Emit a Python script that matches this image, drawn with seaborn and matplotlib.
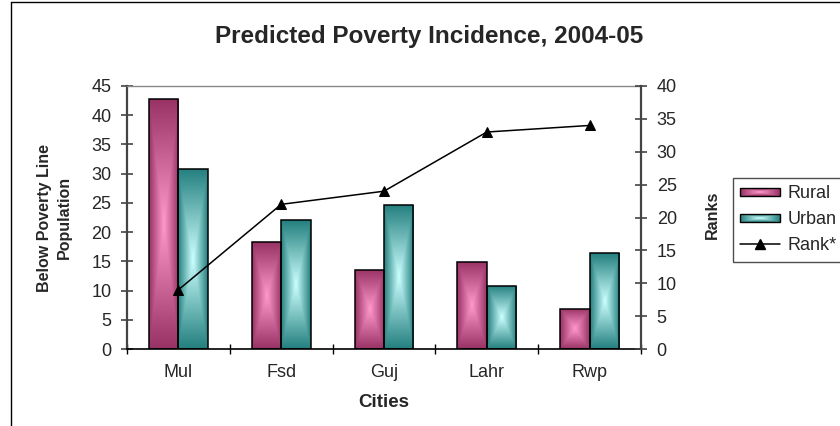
import numpy as np
import pandas as pd
import matplotlib
matplotlib.use("Agg")
import matplotlib.pyplot as plt
import seaborn as sns
from matplotlib.lines import Line2D
from matplotlib.patches import Rectangle
from matplotlib.legend_handler import HandlerBase
from matplotlib.image import BboxImage
from matplotlib.transforms import Bbox, TransformedBbox
from matplotlib.colors import to_rgb

# ---- data ----
cities = ["Mul", "Fsd", "Guj", "Lahr", "Rwp"]
rural = [42.8, 18.3, 13.6, 14.9, 6.9]
urban = [30.8, 22.0, 24.7, 10.8, 16.4]
ranks = [9, 22, 24, 33, 34]
left_ticks = list(range(0, 50, 5))
right_ticks = list(range(0, 45, 5))

RURAL_DARK, RURAL_LIGHT = "#993366", "#ff99cc"
URBAN_DARK, URBAN_LIGHT = "#24807f", "#ccffff"

sns.set_theme(style="white")
plt.rcParams["font.family"] = ["Liberation Sans", "DejaVu Sans"]

W, H = 840, 426
fig = plt.figure(figsize=(W / 100, H / 100), dpi=100)
fig.patch.set_facecolor("white")

x0, x1, y0, y1 = 127, 641, 86, 349
ax = fig.add_axes([x0 / W, 1 - y1 / H, (x1 - x0) / W, (y1 - y0) / H])

df = pd.DataFrame({
    "City": cities * 2,
    "Area": ["Rural"] * len(cities) + ["Urban"] * len(cities),
    "Value": rural + urban,
})
sns.barplot(data=df, x="City", y="Value", hue="Area", order=cities,
            hue_order=["Rural", "Urban"], palette=[RURAL_LIGHT, URBAN_LIGHT],
            width=0.573, gap=0, edgecolor="black", linewidth=1.1,
            errorbar=None, legend=False, ax=ax)


def gradient_array(dark, light, nx=80, ny=80, aspect=1.0):
    u = np.linspace(-1, 1, nx)
    v = np.linspace(-1, 1, ny)
    U, V = np.meshgrid(u, v)
    t = np.maximum(np.abs(U), np.abs(V) * aspect)
    t = np.clip(t, 0, 1)
    d, l = np.array(to_rgb(dark)), np.array(to_rgb(light))
    return l + (d - l) * t[..., None]


def fill_with_gradient(axis, patch, dark, light):
    x, y = patch.get_x(), patch.get_y()
    w, h = patch.get_width(), patch.get_height()
    img = gradient_array(dark, light)
    im = axis.imshow(img, extent=[x, x + w, y, y + h], origin="lower",
                     aspect="auto", interpolation="bilinear",
                     zorder=patch.get_zorder() - 0.01)
    im.set_clip_path(patch)
    patch.set_facecolor("none")


bars = [p for p in ax.patches if isinstance(p, Rectangle)]
n = len(cities)
for i, p in enumerate(bars):
    if i < n:
        fill_with_gradient(ax, p, RURAL_DARK, RURAL_LIGHT)
    else:
        fill_with_gradient(ax, p, URBAN_DARK, URBAN_LIGHT)

ax.set_xlim(-0.5, n - 0.5)
ax.set_ylim(0, 45)
ax.set_yticks(left_ticks)
ax.set_xticks(np.arange(-0.5, n, 1.0))
ax.set_xticklabels([])
ax.set_xticks(np.arange(n), minor=True)
ax.set_xticklabels(cities, minor=True)
ax.tick_params(axis="x", which="major", direction="inout", length=7.5,
               width=1, color="black", bottom=True)
ax.tick_params(axis="x", which="minor", length=0, pad=11, labelsize=13)
ax.tick_params(axis="y", direction="inout", length=8.5, width=1.2,
               color="#444444", left=True, pad=7, labelsize=13)

for side, sp in ax.spines.items():
    sp.set_visible(True)
ax.spines["left"].set_color("#444444")
ax.spines["left"].set_linewidth(1.6)
ax.spines["bottom"].set_color("black")
ax.spines["bottom"].set_linewidth(1.2)
ax.spines["top"].set_color("#888888")
ax.spines["top"].set_linewidth(1)
ax.spines["right"].set_visible(False)

ax.set_xlabel("Cities", fontsize=13.5, fontweight="bold")
ax.xaxis.set_label_coords(0.5, (y1 - 402.5) / (y1 - y0))
ax.xaxis.label.set_va("center")
ax.set_ylabel("Below Poverty Line\nPopulation", fontsize=11.5,
              fontweight="bold", linespacing=1.45, ha="center", va="center")
ax.yaxis.set_label_coords((54.25 - x0) / (x1 - x0), 0.5)

# rank line on the secondary axis
ax2 = ax.twinx()
sns.lineplot(x=np.arange(n), y=ranks, ax=ax2, color="black", linewidth=1.1,
             marker="^", markersize=7.5, markeredgecolor="black", sort=False,
             label="Rank*", legend=False)
ax2.set_ylim(0, 40)
ax2.set_yticks(right_ticks)
ax2.tick_params(axis="y", direction="inout", length=8.5, width=1.2,
                color="#444444", right=True, pad=7, labelsize=13)
for side in ["top", "left", "bottom"]:
    ax2.spines[side].set_visible(False)
ax2.spines["right"].set_color("#444444")
ax2.spines["right"].set_linewidth(1.6)
ax2.set_ylabel("Ranks", fontsize=11.5, fontweight="bold", ha="center",
               va="center", rotation=90)
ax2.yaxis.set_label_coords((712.5 - x0) / (x1 - x0), (y1 - 215) / (y1 - y0))
ax2.set_xlim(-0.5, n - 0.5)


class GradientHandler(HandlerBase):
    def __init__(self, dark, light):
        super().__init__()
        self.dark, self.light = dark, light

    def create_artists(self, legend, orig_handle, xdescent, ydescent,
                       width, height, fontsize, trans):
        hh = height * 0.6
        yy = -ydescent + (height - hh) / 2
        bb = TransformedBbox(Bbox.from_bounds(-xdescent, yy, width, hh), trans)
        img = BboxImage(bb, interpolation="bilinear")
        img.set_data(gradient_array(self.dark, self.light, aspect=1.0))
        rect = Rectangle((-xdescent, yy), width, hh, facecolor="none",
                         edgecolor="black", linewidth=1, transform=trans)
        return [img, rect]


rural_h = Rectangle((0, 0), 1, 1, label="Rural")
urban_h = Rectangle((0, 0), 1, 1, label="Urban")
rank_h = Line2D([], [], color="black", linewidth=1.1, marker="^",
                markersize=7.5, label="Rank*")
leg = fig.legend(handles=[rural_h, urban_h, rank_h],
                 labels=["Rural", "Urban", "Rank*"],
                 handler_map={rural_h: GradientHandler(RURAL_DARK, RURAL_LIGHT),
                              urban_h: GradientHandler(URBAN_DARK, URBAN_LIGHT)},
                 loc="upper left", bbox_to_anchor=(733 / W, 1 - 178 / H),
                 fontsize=13, frameon=True, fancybox=False, borderaxespad=0,
                 borderpad=0.4, handlelength=2.2, handletextpad=0.4,
                 labelspacing=0.5)
leg.get_frame().set_edgecolor("#222222")
leg.get_frame().set_linewidth(1)

fig.text(429 / W, 1 - 37 / H, "Predicted Poverty Incidence, 2004-05",
         ha="center", va="center", fontsize=17.5, fontweight="bold")

# chart-area border
fig.add_artist(Line2D([11 / W, 11 / W], [0, 1 - 2 / H], color="black",
                      linewidth=1, transform=fig.transFigure))
fig.add_artist(Line2D([11 / W, 1], [1 - 2 / H, 1 - 2 / H], color="black",
                      linewidth=1, transform=fig.transFigure))

fig.savefig("out.png", dpi=100)
